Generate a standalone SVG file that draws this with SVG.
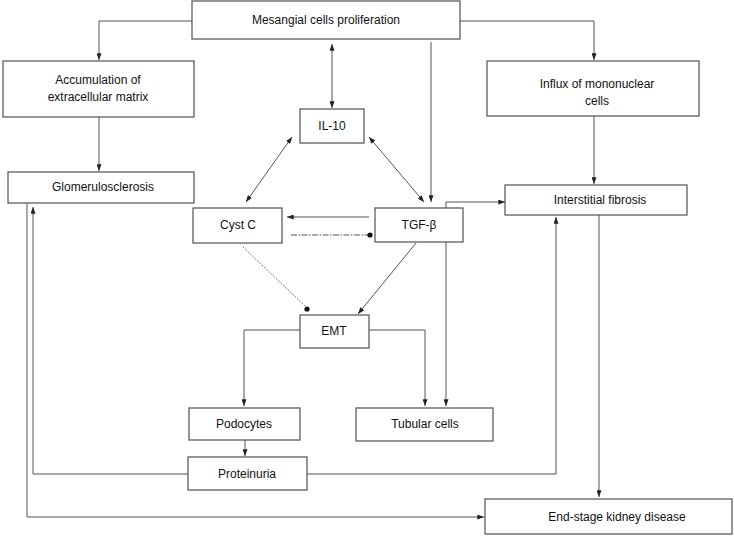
<svg xmlns="http://www.w3.org/2000/svg" width="734" height="536" viewBox="0 0 734 536">
<style>
  .box { fill: #fff; stroke: #505050; stroke-width: 1.2; }
  .lbl { font-family: "Liberation Sans", Arial, sans-serif; font-size: 12px; fill: #111; text-anchor: middle; }
  .ln { fill: none; stroke: #555; stroke-width: 1; }
  .arr { marker-end: url(#ah); }
  .dbl { marker-start: url(#ah); marker-end: url(#ah); }
  .dash { stroke-dasharray: 6 1.5 1.5 1.5; }
  .dot { stroke-dasharray: 1.2 1.2; }
</style>
<defs>
  <marker id="ah" viewBox="0 0 8 6" refX="8" refY="3" markerWidth="7" markerHeight="5" markerUnits="userSpaceOnUse" orient="auto-start-reverse">
    <path d="M0,0 L8,3 L0,6 z" fill="#222"/>
  </marker>
</defs>
<rect width="734" height="536" fill="#fff"/>
<g id="connectors">
  <polyline class="ln arr" points="192,21 99,21 99,60"/>
  <polyline class="ln arr" points="460,21 594,21 594,60"/>
  <line class="ln arr" x1="99" y1="117" x2="99" y2="171"/>
  <line class="ln arr" x1="594" y1="116" x2="594" y2="184"/>
  <line class="ln dbl" x1="332" y1="44" x2="332" y2="108"/>
  <line class="ln arr" x1="431" y1="42" x2="431" y2="202"/>
  <line class="ln dbl" x1="292" y1="137" x2="246" y2="202"/>
  <line class="ln dbl" x1="369" y1="137" x2="424" y2="202"/>
  <line class="ln arr" x1="369" y1="217" x2="287" y2="217"/>
  <line class="ln dash" x1="291" y1="235" x2="368" y2="235"/>
  <circle cx="370" cy="235" r="2.6" fill="#111"/>
  <polyline class="ln arr" points="446,208 446,202 505,202"/>
  <line class="ln arr" x1="446" y1="242" x2="446" y2="406"/>
  <line class="ln arr" x1="416" y1="243" x2="358" y2="314"/>
  <line class="ln dot" x1="243" y1="247" x2="305" y2="306"/>
  <circle cx="307" cy="309" r="2.6" fill="#111"/>
  <polyline class="ln arr" points="300,330 244,330 244,406"/>
  <polyline class="ln arr" points="369,330 425,330 425,406"/>
  <line class="ln arr" x1="245" y1="440" x2="245" y2="456"/>
  <polyline class="ln arr" points="188,474 33,474 33,207"/>
  <polyline class="ln arr" points="307,474 556,474 556,217"/>
  <polyline class="ln arr" points="27,203 27,517 484,517"/>
  <line class="ln arr" x1="599" y1="215" x2="599" y2="497"/>
</g>
<g id="mesangial">
  <rect class="box" x="192" y="1" width="268" height="38"/>
  <text class="lbl" x="326" y="24">Mesangial cells proliferation</text>
</g>
<g id="accumulation">
  <rect class="box" x="3" y="61" width="191" height="56"/>
  <text class="lbl" x="98" y="84">Accumulation of</text>
  <text class="lbl" x="98" y="101">extracellular matrix</text>
</g>
<g id="influx">
  <rect class="box" x="487" y="61" width="212" height="55"/>
  <text class="lbl" x="597" y="88">Influx of mononuclear</text>
  <text class="lbl" x="597" y="105">cells</text>
</g>
<g id="glomerulosclerosis">
  <rect class="box" x="8" y="172" width="186" height="31"/>
  <text class="lbl" x="103" y="191">Glomerulosclerosis</text>
</g>
<g id="il10">
  <rect class="box" x="300" y="109" width="64" height="34"/>
  <text class="lbl" x="332" y="130">IL-10</text>
</g>
<g id="interstitial">
  <rect class="box" x="505" y="185" width="182" height="30"/>
  <text class="lbl" x="600" y="204">Interstitial fibrosis</text>
</g>
<g id="cystc">
  <rect class="box" x="193" y="208" width="89" height="35"/>
  <text class="lbl" x="238" y="229">Cyst C</text>
</g>
<g id="tgfb">
  <rect class="box" x="375" y="208" width="88" height="34"/>
  <text class="lbl" x="419" y="229">TGF-β</text>
</g>
<g id="emt">
  <rect class="box" x="300" y="315" width="69" height="33"/>
  <text class="lbl" x="334" y="335">EMT</text>
</g>
<g id="podocytes">
  <rect class="box" x="189" y="408" width="111" height="32"/>
  <text class="lbl" x="244" y="428">Podocytes</text>
</g>
<g id="tubular">
  <rect class="box" x="356" y="408" width="137" height="33"/>
  <text class="lbl" x="425" y="428">Tubular cells</text>
</g>
<g id="proteinuria">
  <rect class="box" x="188" y="457" width="119" height="33"/>
  <text class="lbl" x="247" y="478">Proteinuria</text>
</g>
<g id="eskd">
  <rect class="box" x="485" y="499" width="247" height="35"/>
  <text class="lbl" x="617" y="521">End-stage kidney disease</text>
</g>
</svg>
